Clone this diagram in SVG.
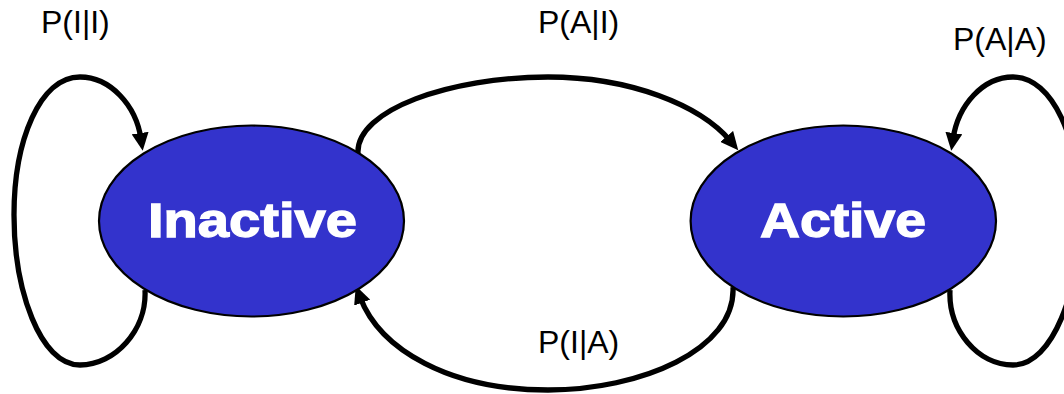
<svg xmlns="http://www.w3.org/2000/svg" width="1064" height="394" viewBox="0 0 1064 394">
<style>
.node{fill:#3333CC;stroke:#000;stroke-width:2.2}
.name{font-family:"Liberation Sans",Arial,sans-serif;font-weight:bold;font-size:48px;fill:#fff;stroke:#fff;stroke-width:1.3}
.lbl{font-family:"Liberation Sans",Arial,sans-serif;font-size:32px;fill:#000}
.edge{fill:none;stroke:#000;stroke-width:5.3;marker-end:url(#arr)}
</style>
<defs>
<marker id="arr" markerUnits="userSpaceOnUse" markerWidth="18" markerHeight="17" viewBox="0 0 18 17" refX="6" refY="8.5" orient="auto">
<path d="M0,0 L18,8.5 L0,17 z" fill="#000"/>
</marker>
</defs>
<rect width="1064" height="394" fill="#fff"/>
<g id="connectors">
<path class="edge" d="M145 290 C147 330,115 365,80 365 C40 365,14 290,14 215 C14 140,40 77,80 77 C110 77,136 105,141 139"/>
<path class="edge" d="M950 290 C948 330,978 365,1013 365 C1053 365,1080 290,1080 215 C1080 140,1053 77,1013 77 C983 77,958 105,953 139"/>
<path class="edge" d="M358 153 C356 110,450 77,548 77 C630 77,700 105,730.5 141"/>
<path class="edge" d="M733 287 C736 350,640 390,548 390 C450 390,380 350,360 297"/>
</g>
<g id="labels">
<text class="lbl" x="41" y="33">P(I|I)</text>
<text class="lbl" x="538" y="33">P(A|I)</text>
<text class="lbl" x="953" y="50">P(A|A)</text>
<text class="lbl" x="538" y="353">P(I|A)</text>
</g>
<g id="inactive">
<ellipse class="node" cx="251.5" cy="221" rx="152.5" ry="95.5"/>
<text class="name" x="148" y="237" textLength="209" lengthAdjust="spacingAndGlyphs">Inactive</text>
</g>
<g id="active">
<ellipse class="node" cx="843.3" cy="221" rx="152.7" ry="95.5"/>
<text class="name" x="760" y="237" textLength="166" lengthAdjust="spacingAndGlyphs">Active</text>
</g>
</svg>
